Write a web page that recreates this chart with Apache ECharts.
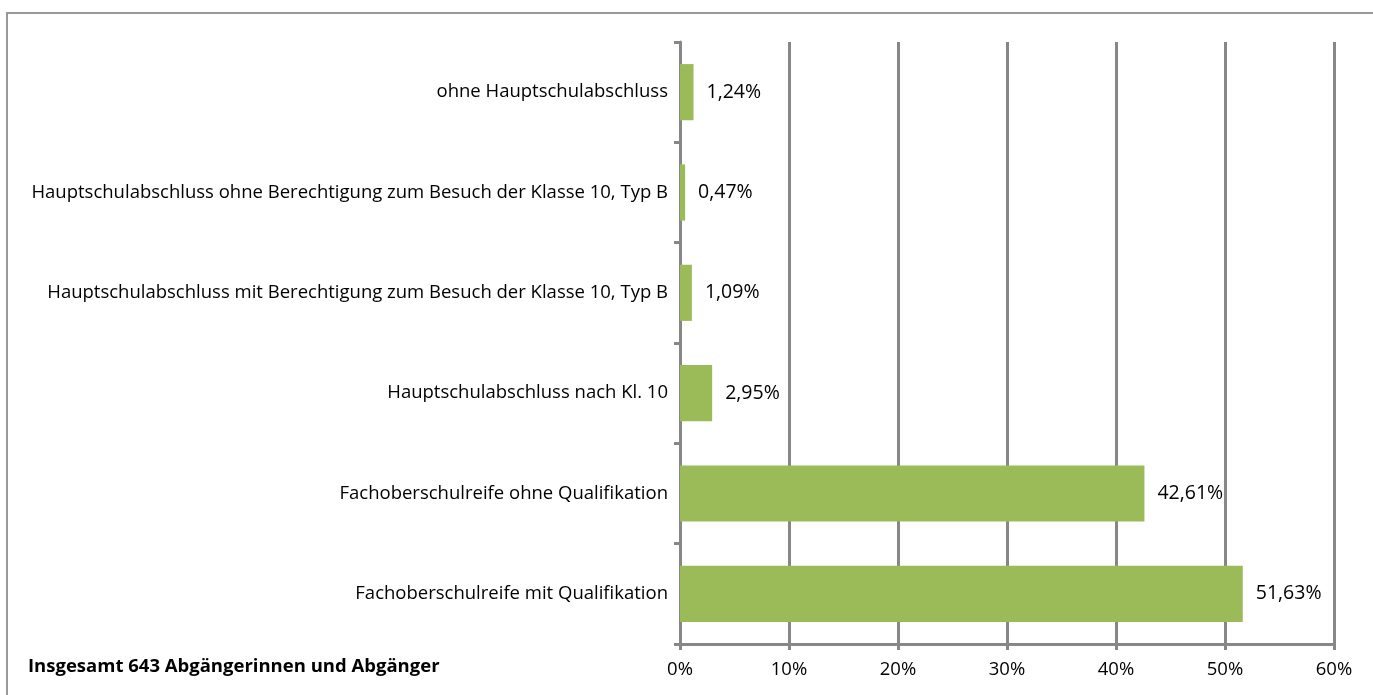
<!DOCTYPE html>
<html>
<head>
<meta charset="utf-8">
<script src="https://cdn.jsdelivr.net/npm/echarts@6/dist/echarts.min.js"></script>
<style>
  html, body { margin: 0; padding: 0; background: #fff; }
  #main { width: 1373px; height: 695px; }
</style>
</head>
<body>
<div id="main"></div>
<script>
// categories, top to bottom
var categories = [
  'ohne Hauptschulabschluss',
  'Hauptschulabschluss ohne Berechtigung zum Besuch der Klasse 10, Typ B',
  'Hauptschulabschluss mit Berechtigung zum Besuch der Klasse 10, Typ B',
  'Hauptschulabschluss nach Kl. 10',
  'Fachoberschulreife ohne Qualifikation',
  'Fachoberschulreife mit Qualifikation'
];
var shares = [1.24, 0.47, 1.09, 2.95, 42.61, 51.63];
var footnote = 'Insgesamt 643 Abgängerinnen und Abgänger';

var FONT = '"Open Sans", "Liberation Sans", sans-serif';
var GRAY = '#878787';

var chartDom = document.getElementById('main');
var myChart = echarts.init(chartDom);
var option = {
  animation: false,
  textStyle: { fontFamily: FONT },
  grid: { left: 680, right: 39, top: 42, bottom: 51 },
  xAxis: {
    type: 'value',
    min: 0,
    max: 60,
    interval: 10,
    axisLine: { show: true, lineStyle: { color: GRAY, width: 3 } },
    axisTick: { show: true, length: 6, lineStyle: { color: GRAY, width: 3 } },
    splitLine: { show: true, lineStyle: { color: GRAY, width: 3 } },
    axisLabel: { color: '#000', fontSize: 18.5, margin: 16, fontFamily: FONT, formatter: '{value}%' }
  },
  yAxis: {
    type: 'category',
    inverse: true,
    data: categories,
    axisLine: { show: true, lineStyle: { color: GRAY, width: 3 } },
    axisTick: { show: true, length: 6, lineStyle: { color: GRAY, width: 3 } },
    axisLabel: { color: '#000', fontSize: 18.5, margin: 12, fontFamily: FONT }
  },
  series: [{
    type: 'bar',
    data: shares,
    barCategoryGap: '44%',
    itemStyle: { color: '#9BBB59' },
    label: {
      show: true,
      position: 'right',
      distance: 13,
      color: '#000',
      fontSize: 19.5,
      fontFamily: FONT,
      formatter: function (p) { return p.value.toFixed(2).replace('.', ',') + '%'; }
    }
  }],
  graphic: [
    {
      type: 'rect',
      shape: { x: 7, y: 13, width: 1400, height: 720 },
      style: { fill: null, stroke: '#999', lineWidth: 2 },
      silent: true
    },
    {
      type: 'text',
      left: 28,
      top: 657,
      style: { text: footnote, font: 'bold 18.5px ' + FONT, fill: '#000' }
    }
  ]
};
option && myChart.setOption(option);
</script>
</body>
</html>
